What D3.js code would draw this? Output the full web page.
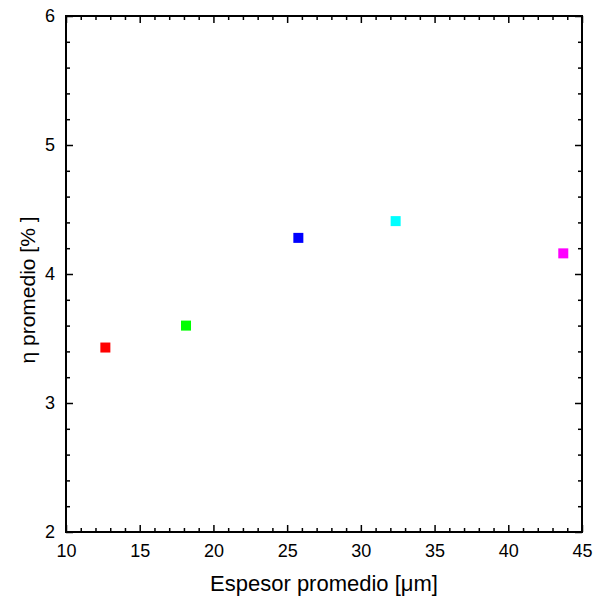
<!DOCTYPE html>
<html><head><meta charset="utf-8">
<script src="https://cdn.jsdelivr.net/npm/d3@7"></script>
<style>body{margin:0;background:#fff;} text{font-family:"Liberation Sans",Arial,sans-serif;fill:#000;}</style>
</head><body>
<svg id="c" width="594" height="602"></svg>
<script>
const thickness = [12.67, 18.14, 25.76, 32.36, 43.73];
const efficiency = [3.43, 3.60, 4.28, 4.41, 4.16];
const colors = ["#ff0000", "#00ff00", "#0000ff", "#00ffff", "#ff00ff"];
const xTicks = [10, 15, 20, 25, 30, 35, 40, 45];
const yTicks = [2, 3, 4, 5, 6];
const xLabel = "Espesor promedio [\u03bcm]";
const yLabel = "\u03b7 promedio [% ]";

const L = 66, R = 582, T = 16, B = 532;
const svg = d3.select("#c");
const x = d3.scaleLinear().domain([10, 45]).range([L, R]);
const y = d3.scaleLinear().domain([2, 6]).range([B, T]);

const xMinor = d3.range(10, 45.01, 1).filter(v => v % 5 !== 0);
const yMinor = d3.range(2, 6.001, 0.2).map(v => +v.toFixed(1)).filter(v => Math.abs(v - Math.round(v)) > 1e-6);

function tickSet(axisFn, scale, vals, size, labels, pad) {
  return axisFn(scale).tickValues(vals).tickSizeInner(size).tickSizeOuter(0).tickPadding(pad)
    .tickFormat(labels ? d3.format("d") : () => "");
}
function draw(g) { g.select(".domain").remove(); g.selectAll("line").attr("stroke", "#000").attr("stroke-width", 1.5); }

// bottom
svg.append("g").attr("transform", `translate(0,${B})`).call(tickSet(d3.axisBottom, x, xTicks, -7, true, 12)).call(draw)
  .selectAll("text").attr("font-size", 18).attr("font-family", "Liberation Sans, Arial, sans-serif");
svg.append("g").attr("transform", `translate(0,${B})`).call(tickSet(d3.axisBottom, x, xMinor, -4, false, 0)).call(draw);
// top
svg.append("g").attr("transform", `translate(0,${T})`).call(tickSet(d3.axisTop, x, xTicks, -7, false, 0)).call(draw);
svg.append("g").attr("transform", `translate(0,${T})`).call(tickSet(d3.axisTop, x, xMinor, -4, false, 0)).call(draw);
// left
svg.append("g").attr("transform", `translate(${L},0)`).call(tickSet(d3.axisLeft, y, yTicks, -7, true, 11)).call(draw)
  .selectAll("text").attr("font-size", 18).attr("font-family", "Liberation Sans, Arial, sans-serif");
svg.append("g").attr("transform", `translate(${L},0)`).call(tickSet(d3.axisLeft, y, yMinor, -4, false, 0)).call(draw);
// right
svg.append("g").attr("transform", `translate(${R},0)`).call(tickSet(d3.axisRight, y, yTicks, -7, false, 0)).call(draw);
svg.append("g").attr("transform", `translate(${R},0)`).call(tickSet(d3.axisRight, y, yMinor, -4, false, 0)).call(draw);

// frame
svg.append("rect").attr("x", L).attr("y", T).attr("width", R - L).attr("height", B - T)
  .attr("fill", "none").attr("stroke", "#000").attr("stroke-width", 2);

// points
svg.append("g").selectAll("rect").data(thickness).join("rect")
  .attr("x", (d, i) => x(d) - 5).attr("y", (d, i) => y(efficiency[i]) - 5)
  .attr("width", 10).attr("height", 10).attr("fill", (d, i) => colors[i]);

// labels
svg.append("text").attr("x", 324).attr("y", 591).attr("text-anchor", "middle")
  .attr("font-size", 22).text(xLabel);
svg.append("text").attr("transform", `translate(35,290) rotate(-90)`).attr("text-anchor", "middle")
  .attr("font-size", 21).text(yLabel);
</script>
</body></html>
